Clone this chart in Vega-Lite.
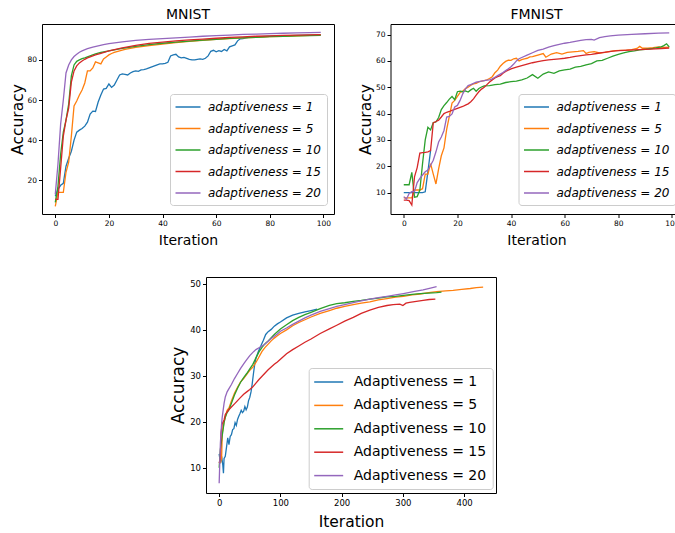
{
"$schema": "https://vega.github.io/schema/vega-lite/v6.json",
"background": "white",
"padding": {"left": 9, "top": 7, "right": 5, "bottom": 0},
"config": {
 "font": "DejaVu Sans",
 "axis": {"grid": false, "domain": false, "tickColor": "black", "tickSize": 3.5, "tickWidth": 1, "labelColor": "black", "labelFont": "DejaVu Sans", "labelPadding": 2, "titleColor": "black", "titleFont": "DejaVu Sans", "titleFontWeight": "normal"},
 "legend": {"title": null, "orient": "none", "symbolType": "M-2,0H2", "symbolStrokeWidth": 1.5, "labelColor": "black", "labelFont": "DejaVu Sans", "strokeColor": "#cccccc", "fillColor": "rgba(255,255,255,0.8)", "cornerRadius": 3, "padding": 6},
 "title": {"font": "DejaVu Sans", "fontWeight": "normal", "color": "black"}
},
"resolve": {"scale": {"color": "independent"}, "legend": {"color": "independent"}},
"spacing": 28,
"datasets": {
"mnist": [
{"a":1,"x":0,"y":12},{"a":1,"x":1,"y":15.5},{"a":1,"x":2,"y":17.5},{"a":1,"x":3,"y":18.5},{"a":1,"x":4,"y":27},{"a":1,"x":5,"y":31},{"a":1,"x":6,"y":34.5},{"a":1,"x":7,"y":40},{"a":1,"x":8,"y":44},{"a":1,"x":9,"y":45},{"a":1,"x":10,"y":45.8},{"a":1,"x":11,"y":47},{"a":1,"x":12,"y":49},{"a":1,"x":13,"y":53},{"a":1,"x":14,"y":54.5},{"a":1,"x":15,"y":54.3},{"a":1,"x":16,"y":59},{"a":1,"x":17,"y":62.5},{"a":1,"x":18,"y":65.5},{"a":1,"x":19,"y":65.8},{"a":1,"x":20,"y":68},{"a":1,"x":21,"y":66.3},{"a":1,"x":22,"y":67.5},{"a":1,"x":23,"y":70},{"a":1,"x":24,"y":72.5},{"a":1,"x":25,"y":73},{"a":1,"x":26,"y":72.8},{"a":1,"x":27,"y":72.5},{"a":1,"x":28,"y":73.5},{"a":1,"x":29,"y":74.2},{"a":1,"x":30,"y":74.5},{"a":1,"x":31,"y":74.3},{"a":1,"x":32,"y":75},{"a":1,"x":33,"y":75.2},{"a":1,"x":34,"y":75.5},{"a":1,"x":35,"y":76},{"a":1,"x":36,"y":76.5},{"a":1,"x":37,"y":77},{"a":1,"x":38,"y":77.5},{"a":1,"x":39,"y":78},{"a":1,"x":40,"y":78},{"a":1,"x":41,"y":78.3},{"a":1,"x":42,"y":78.8},{"a":1,"x":43,"y":82},{"a":1,"x":44,"y":82.5},{"a":1,"x":45,"y":82.8},{"a":1,"x":46,"y":81.5},{"a":1,"x":47,"y":81},{"a":1,"x":48,"y":81.3},{"a":1,"x":49,"y":80.8},{"a":1,"x":50,"y":80.3},{"a":1,"x":51,"y":80},{"a":1,"x":52,"y":80},{"a":1,"x":53,"y":80.3},{"a":1,"x":54,"y":80.5},{"a":1,"x":55,"y":80.3},{"a":1,"x":56,"y":80.8},{"a":1,"x":57,"y":82},{"a":1,"x":58,"y":84.3},{"a":1,"x":59,"y":84.8},{"a":1,"x":60,"y":84},{"a":1,"x":61,"y":84.6},{"a":1,"x":62,"y":84.2},{"a":1,"x":63,"y":85.2},{"a":1,"x":64,"y":84.5},{"a":1,"x":65,"y":86.5},{"a":1,"x":66,"y":87},{"a":1,"x":67,"y":87.5},{"a":1,"x":68,"y":89.5},{"a":1,"x":69,"y":90.5},{"a":1,"x":70,"y":90.6},{"a":1,"x":71,"y":91},{"a":1,"x":72,"y":91.2},{"a":1,"x":75,"y":91.5},{"a":1,"x":80,"y":91.8},{"a":1,"x":85,"y":92},{"a":1,"x":90,"y":92.2},{"a":1,"x":95,"y":92.4},{"a":1,"x":99,"y":92.5},
{"a":5,"x":0,"y":7},{"a":5,"x":1,"y":14},{"a":5,"x":2,"y":14},{"a":5,"x":3,"y":14},{"a":5,"x":4,"y":24},{"a":5,"x":5,"y":29},{"a":5,"x":6,"y":42},{"a":5,"x":7,"y":57},{"a":5,"x":8,"y":59.5},{"a":5,"x":9,"y":62.5},{"a":5,"x":10,"y":65},{"a":5,"x":11,"y":68.5},{"a":5,"x":12,"y":74.5},{"a":5,"x":13,"y":74.5},{"a":5,"x":14,"y":76},{"a":5,"x":15,"y":79},{"a":5,"x":16,"y":78.5},{"a":5,"x":17,"y":78},{"a":5,"x":18,"y":80.5},{"a":5,"x":19,"y":81.5},{"a":5,"x":20,"y":82.5},{"a":5,"x":21,"y":83.2},{"a":5,"x":22,"y":83.7},{"a":5,"x":24,"y":84.5},{"a":5,"x":26,"y":85.2},{"a":5,"x":28,"y":85.7},{"a":5,"x":30,"y":86.2},{"a":5,"x":35,"y":87.1},{"a":5,"x":40,"y":87.9},{"a":5,"x":45,"y":88.6},{"a":5,"x":50,"y":89.2},{"a":5,"x":55,"y":89.7},{"a":5,"x":60,"y":90.2},{"a":5,"x":65,"y":90.6},{"a":5,"x":70,"y":91},{"a":5,"x":75,"y":91.3},{"a":5,"x":80,"y":91.6},{"a":5,"x":85,"y":91.8},{"a":5,"x":90,"y":92},{"a":5,"x":95,"y":92.2},{"a":5,"x":99,"y":92.4},
{"a":10,"x":0,"y":9},{"a":10,"x":1,"y":17},{"a":10,"x":2,"y":33},{"a":10,"x":3,"y":44},{"a":10,"x":4,"y":50},{"a":10,"x":5,"y":58},{"a":10,"x":6,"y":72},{"a":10,"x":7,"y":77.5},{"a":10,"x":8,"y":79.3},{"a":10,"x":9,"y":80},{"a":10,"x":10,"y":80.6},{"a":10,"x":11,"y":81},{"a":10,"x":12,"y":81.5},{"a":10,"x":13,"y":82},{"a":10,"x":14,"y":82.5},{"a":10,"x":15,"y":83},{"a":10,"x":17,"y":83.7},{"a":10,"x":20,"y":84.5},{"a":10,"x":25,"y":85.7},{"a":10,"x":30,"y":86.8},{"a":10,"x":35,"y":87.6},{"a":10,"x":40,"y":88.3},{"a":10,"x":45,"y":88.9},{"a":10,"x":50,"y":89.4},{"a":10,"x":55,"y":89.9},{"a":10,"x":60,"y":90.3},{"a":10,"x":65,"y":90.7},{"a":10,"x":70,"y":91},{"a":10,"x":75,"y":91.3},{"a":10,"x":80,"y":91.6},{"a":10,"x":85,"y":91.8},{"a":10,"x":90,"y":92},{"a":10,"x":95,"y":92.1},{"a":10,"x":99,"y":92.2},
{"a":15,"x":0,"y":10.5},{"a":15,"x":1,"y":10.5},{"a":15,"x":2,"y":26},{"a":15,"x":3,"y":42},{"a":15,"x":4,"y":50},{"a":15,"x":5,"y":56},{"a":15,"x":6,"y":69},{"a":15,"x":7,"y":74.5},{"a":15,"x":8,"y":77},{"a":15,"x":9,"y":78.5},{"a":15,"x":10,"y":79.5},{"a":15,"x":11,"y":80.3},{"a":15,"x":12,"y":81},{"a":15,"x":13,"y":81.5},{"a":15,"x":14,"y":82},{"a":15,"x":15,"y":82.5},{"a":15,"x":17,"y":83.3},{"a":15,"x":20,"y":84.5},{"a":15,"x":25,"y":86},{"a":15,"x":30,"y":87.3},{"a":15,"x":35,"y":88.2},{"a":15,"x":40,"y":88.9},{"a":15,"x":45,"y":89.5},{"a":15,"x":50,"y":90},{"a":15,"x":55,"y":90.4},{"a":15,"x":60,"y":90.8},{"a":15,"x":65,"y":91.2},{"a":15,"x":70,"y":91.5},{"a":15,"x":75,"y":91.8},{"a":15,"x":80,"y":92},{"a":15,"x":85,"y":92.2},{"a":15,"x":90,"y":92.4},{"a":15,"x":95,"y":92.5},{"a":15,"x":99,"y":92.6},
{"a":20,"x":0,"y":13},{"a":20,"x":1,"y":28},{"a":20,"x":2,"y":48},{"a":20,"x":3,"y":60},{"a":20,"x":4,"y":73.5},{"a":20,"x":5,"y":77.5},{"a":20,"x":6,"y":80},{"a":20,"x":7,"y":81.7},{"a":20,"x":8,"y":82.8},{"a":20,"x":9,"y":83.8},{"a":20,"x":10,"y":84.5},{"a":20,"x":12,"y":85.6},{"a":20,"x":14,"y":86.4},{"a":20,"x":16,"y":87},{"a":20,"x":18,"y":87.6},{"a":20,"x":20,"y":88.1},{"a":20,"x":25,"y":89},{"a":20,"x":30,"y":89.7},{"a":20,"x":35,"y":90.2},{"a":20,"x":40,"y":90.6},{"a":20,"x":45,"y":91},{"a":20,"x":50,"y":91.4},{"a":20,"x":55,"y":91.8},{"a":20,"x":60,"y":92.1},{"a":20,"x":65,"y":92.4},{"a":20,"x":70,"y":92.7},{"a":20,"x":75,"y":92.9},{"a":20,"x":80,"y":93.1},{"a":20,"x":85,"y":93.3},{"a":20,"x":90,"y":93.5},{"a":20,"x":95,"y":93.6},{"a":20,"x":99,"y":93.7}
],
"fmnist": [
{"a":1,"x":0,"y":10},{"a":1,"x":1,"y":10},{"a":1,"x":2,"y":10},{"a":1,"x":3,"y":10},{"a":1,"x":4,"y":10},{"a":1,"x":5,"y":10},{"a":1,"x":6,"y":10},{"a":1,"x":7,"y":10},{"a":1,"x":8,"y":10.3},{"a":1,"x":9,"y":18},{"a":1,"x":10,"y":26},
{"a":5,"x":0,"y":8},{"a":5,"x":1,"y":8},{"a":5,"x":2,"y":8},{"a":5,"x":3,"y":8},{"a":5,"x":4,"y":11},{"a":5,"x":5,"y":11},{"a":5,"x":6,"y":11},{"a":5,"x":7,"y":11.5},{"a":5,"x":8,"y":17},{"a":5,"x":9,"y":17},{"a":5,"x":10,"y":21},{"a":5,"x":11,"y":17},{"a":5,"x":12,"y":13.3},{"a":5,"x":13,"y":19},{"a":5,"x":14,"y":24},{"a":5,"x":15,"y":27},{"a":5,"x":16,"y":34},{"a":5,"x":17,"y":39},{"a":5,"x":18,"y":44},{"a":5,"x":19,"y":45},{"a":5,"x":20,"y":46.5},{"a":5,"x":21,"y":48},{"a":5,"x":22,"y":48.5},{"a":5,"x":23,"y":49.5},{"a":5,"x":24,"y":50},{"a":5,"x":25,"y":50.8},{"a":5,"x":26,"y":51.3},{"a":5,"x":27,"y":51.5},{"a":5,"x":28,"y":52},{"a":5,"x":29,"y":52.3},{"a":5,"x":30,"y":52.5},{"a":5,"x":31,"y":52.8},{"a":5,"x":32,"y":53.3},{"a":5,"x":33,"y":54},{"a":5,"x":34,"y":55.5},{"a":5,"x":35,"y":56.5},{"a":5,"x":36,"y":58},{"a":5,"x":37,"y":59},{"a":5,"x":38,"y":59.8},{"a":5,"x":39,"y":60.3},{"a":5,"x":40,"y":60.2},{"a":5,"x":41,"y":60.8},{"a":5,"x":42,"y":61},{"a":5,"x":43,"y":60},{"a":5,"x":44,"y":60.5},{"a":5,"x":45,"y":60.8},{"a":5,"x":46,"y":61},{"a":5,"x":47,"y":61.5},{"a":5,"x":48,"y":61.6},{"a":5,"x":50,"y":62.2},{"a":5,"x":52,"y":62.8},{"a":5,"x":53,"y":61.4},{"a":5,"x":55,"y":62.6},{"a":5,"x":57,"y":63.1},{"a":5,"x":59,"y":62.6},{"a":5,"x":61,"y":63.2},{"a":5,"x":63,"y":63.4},{"a":5,"x":65,"y":63.6},{"a":5,"x":67,"y":63.9},{"a":5,"x":68,"y":62.8},{"a":5,"x":69,"y":63.2},{"a":5,"x":71,"y":63.5},{"a":5,"x":73,"y":63},{"a":5,"x":75,"y":63.2},{"a":5,"x":77,"y":63.6},{"a":5,"x":79,"y":63.9},{"a":5,"x":81,"y":64},{"a":5,"x":83,"y":64.1},{"a":5,"x":85,"y":64.3},{"a":5,"x":87,"y":64.7},{"a":5,"x":88,"y":65.5},{"a":5,"x":89,"y":64.8},{"a":5,"x":91,"y":64.8},{"a":5,"x":93,"y":65},{"a":5,"x":95,"y":65.3},{"a":5,"x":97,"y":65.1},{"a":5,"x":99,"y":65.2},
{"a":10,"x":0,"y":13},{"a":10,"x":1,"y":13},{"a":10,"x":2,"y":13},{"a":10,"x":3,"y":17.7},{"a":10,"x":4,"y":8.3},{"a":10,"x":5,"y":8.5},{"a":10,"x":6,"y":11},{"a":10,"x":7,"y":21},{"a":10,"x":8,"y":30},{"a":10,"x":9,"y":34.8},{"a":10,"x":10,"y":33.8},{"a":10,"x":11,"y":36.6},{"a":10,"x":12,"y":36.8},{"a":10,"x":13,"y":38.5},{"a":10,"x":14,"y":41.5},{"a":10,"x":15,"y":43},{"a":10,"x":16,"y":44.2},{"a":10,"x":17,"y":45.5},{"a":10,"x":18,"y":46.5},{"a":10,"x":19,"y":45.3},{"a":10,"x":20,"y":48.3},{"a":10,"x":21,"y":48.5},{"a":10,"x":22,"y":48.3},{"a":10,"x":23,"y":48.6},{"a":10,"x":24,"y":48.2},{"a":10,"x":25,"y":49},{"a":10,"x":26,"y":49.6},{"a":10,"x":27,"y":48.5},{"a":10,"x":28,"y":49.5},{"a":10,"x":29,"y":50.1},{"a":10,"x":30,"y":50.5},{"a":10,"x":32,"y":50.6},{"a":10,"x":34,"y":51},{"a":10,"x":36,"y":51.2},{"a":10,"x":38,"y":51.8},{"a":10,"x":40,"y":52.1},{"a":10,"x":42,"y":52.3},{"a":10,"x":44,"y":52.8},{"a":10,"x":46,"y":53.5},{"a":10,"x":48,"y":54.8},{"a":10,"x":50,"y":53.4},{"a":10,"x":52,"y":55},{"a":10,"x":54,"y":55.8},{"a":10,"x":56,"y":55.3},{"a":10,"x":58,"y":56.2},{"a":10,"x":60,"y":56.6},{"a":10,"x":62,"y":56.9},{"a":10,"x":64,"y":57.6},{"a":10,"x":66,"y":57.9},{"a":10,"x":68,"y":58.5},{"a":10,"x":70,"y":59},{"a":10,"x":72,"y":60},{"a":10,"x":74,"y":60.2},{"a":10,"x":76,"y":61},{"a":10,"x":78,"y":61.8},{"a":10,"x":80,"y":62.5},{"a":10,"x":82,"y":63},{"a":10,"x":84,"y":63.5},{"a":10,"x":86,"y":63.8},{"a":10,"x":88,"y":64.2},{"a":10,"x":90,"y":64.4},{"a":10,"x":92,"y":64.6},{"a":10,"x":94,"y":64.9},{"a":10,"x":96,"y":65.3},{"a":10,"x":97,"y":65.8},{"a":10,"x":98,"y":66.5},{"a":10,"x":99,"y":65.3},
{"a":15,"x":0,"y":7.2},{"a":15,"x":1,"y":7.2},{"a":15,"x":2,"y":7},{"a":15,"x":3,"y":5.3},{"a":15,"x":4,"y":16},{"a":15,"x":5,"y":19.5},{"a":15,"x":6,"y":25},{"a":15,"x":7,"y":25.2},{"a":15,"x":8,"y":25.3},{"a":15,"x":9,"y":25.5},{"a":15,"x":10,"y":26},{"a":15,"x":11,"y":36.5},{"a":15,"x":12,"y":37},{"a":15,"x":13,"y":37.5},{"a":15,"x":14,"y":38.7},{"a":15,"x":15,"y":40},{"a":15,"x":16,"y":40.5},{"a":15,"x":17,"y":40.8},{"a":15,"x":18,"y":41.2},{"a":15,"x":19,"y":41.6},{"a":15,"x":20,"y":42},{"a":15,"x":21,"y":42.4},{"a":15,"x":22,"y":42.7},{"a":15,"x":23,"y":43.2},{"a":15,"x":24,"y":43.7},{"a":15,"x":25,"y":44.5},{"a":15,"x":26,"y":45.6},{"a":15,"x":27,"y":47},{"a":15,"x":28,"y":48.3},{"a":15,"x":29,"y":49.3},{"a":15,"x":30,"y":50},{"a":15,"x":31,"y":51},{"a":15,"x":32,"y":52},{"a":15,"x":33,"y":52.8},{"a":15,"x":34,"y":53.5},{"a":15,"x":35,"y":54},{"a":15,"x":36,"y":54.4},{"a":15,"x":37,"y":55.3},{"a":15,"x":38,"y":56},{"a":15,"x":40,"y":57},{"a":15,"x":42,"y":57.6},{"a":15,"x":44,"y":58.2},{"a":15,"x":46,"y":58.8},{"a":15,"x":48,"y":59.3},{"a":15,"x":50,"y":59.7},{"a":15,"x":52,"y":60.1},{"a":15,"x":54,"y":60.4},{"a":15,"x":56,"y":60.6},{"a":15,"x":58,"y":60.8},{"a":15,"x":60,"y":61},{"a":15,"x":62,"y":61.3},{"a":15,"x":64,"y":61.7},{"a":15,"x":66,"y":62},{"a":15,"x":68,"y":62.3},{"a":15,"x":70,"y":62.5},{"a":15,"x":72,"y":62.8},{"a":15,"x":74,"y":63.1},{"a":15,"x":76,"y":63.4},{"a":15,"x":78,"y":63.7},{"a":15,"x":80,"y":63.9},{"a":15,"x":84,"y":64.1},{"a":15,"x":88,"y":64.3},{"a":15,"x":92,"y":64.5},{"a":15,"x":96,"y":64.7},{"a":15,"x":99,"y":64.9},
{"a":20,"x":0,"y":8.5},{"a":20,"x":1,"y":7.5},{"a":20,"x":2,"y":9.7},{"a":20,"x":3,"y":10.4},{"a":20,"x":4,"y":10.4},{"a":20,"x":5,"y":13.8},{"a":20,"x":6,"y":15.4},{"a":20,"x":7,"y":16.7},{"a":20,"x":8,"y":17.9},{"a":20,"x":9,"y":18.6},{"a":20,"x":10,"y":20.4},{"a":20,"x":11,"y":22.3},{"a":20,"x":12,"y":25.5},{"a":20,"x":13,"y":29.2},{"a":20,"x":14,"y":31.1},{"a":20,"x":15,"y":33.6},{"a":20,"x":16,"y":38.7},{"a":20,"x":17,"y":38.9},{"a":20,"x":18,"y":39.9},{"a":20,"x":19,"y":42.5},{"a":20,"x":20,"y":43.1},{"a":20,"x":21,"y":45},{"a":20,"x":22,"y":47.5},{"a":20,"x":23,"y":49.4},{"a":20,"x":24,"y":50.6},{"a":20,"x":25,"y":51},{"a":20,"x":26,"y":51.5},{"a":20,"x":27,"y":51.9},{"a":20,"x":28,"y":52.1},{"a":20,"x":29,"y":52.3},{"a":20,"x":30,"y":52.5},{"a":20,"x":31,"y":52.7},{"a":20,"x":32,"y":52.8},{"a":20,"x":33,"y":53.2},{"a":20,"x":34,"y":53.8},{"a":20,"x":35,"y":54.4},{"a":20,"x":36,"y":55},{"a":20,"x":37,"y":55.6},{"a":20,"x":38,"y":56.3},{"a":20,"x":39,"y":57},{"a":20,"x":40,"y":57.8},{"a":20,"x":41,"y":58.8},{"a":20,"x":42,"y":60},{"a":20,"x":43,"y":60.8},{"a":20,"x":44,"y":61.3},{"a":20,"x":46,"y":62.2},{"a":20,"x":48,"y":63.1},{"a":20,"x":50,"y":64},{"a":20,"x":52,"y":64.5},{"a":20,"x":54,"y":65.2},{"a":20,"x":56,"y":65.8},{"a":20,"x":58,"y":66.3},{"a":20,"x":60,"y":66.7},{"a":20,"x":62,"y":67},{"a":20,"x":64,"y":67.4},{"a":20,"x":66,"y":67.8},{"a":20,"x":68,"y":68.1},{"a":20,"x":70,"y":68.2},{"a":20,"x":71,"y":67.9},{"a":20,"x":73,"y":68.8},{"a":20,"x":75,"y":69.2},{"a":20,"x":77,"y":69.5},{"a":20,"x":80,"y":69.8},{"a":20,"x":85,"y":70.1},{"a":20,"x":90,"y":70.3},{"a":20,"x":95,"y":70.5},{"a":20,"x":99,"y":70.6}
],
"cifar": [
{"a":1,"x":0,"y":13},{"a":1,"x":2,"y":11},{"a":1,"x":4,"y":12.5},{"a":1,"x":6,"y":10.5},{"a":1,"x":7,"y":8.8},{"a":1,"x":8,"y":12},{"a":1,"x":10,"y":12.5},{"a":1,"x":12,"y":14.5},{"a":1,"x":14,"y":16.5},{"a":1,"x":16,"y":15},{"a":1,"x":18,"y":16.8},{"a":1,"x":20,"y":17.2},{"a":1,"x":22,"y":18.3},{"a":1,"x":24,"y":18.5},{"a":1,"x":26,"y":19.8},{"a":1,"x":28,"y":19.2},{"a":1,"x":30,"y":20.5},{"a":1,"x":32,"y":21.2},{"a":1,"x":34,"y":21.8},{"a":1,"x":36,"y":22.5},{"a":1,"x":38,"y":22},{"a":1,"x":40,"y":22.3},{"a":1,"x":42,"y":23.3},{"a":1,"x":44,"y":22.6},{"a":1,"x":46,"y":23.2},{"a":1,"x":48,"y":24.6},{"a":1,"x":50,"y":25.3},{"a":1,"x":52,"y":26.5},{"a":1,"x":54,"y":28.3},{"a":1,"x":56,"y":30.5},{"a":1,"x":58,"y":32.5},{"a":1,"x":60,"y":33.8},{"a":1,"x":64,"y":35.3},{"a":1,"x":68,"y":36.5},{"a":1,"x":72,"y":37.7},{"a":1,"x":76,"y":39},{"a":1,"x":80,"y":39.6},{"a":1,"x":85,"y":40.1},{"a":1,"x":90,"y":40.8},{"a":1,"x":95,"y":41.3},{"a":1,"x":100,"y":41.7},{"a":1,"x":110,"y":42.6},{"a":1,"x":120,"y":43.2},{"a":1,"x":130,"y":43.6},{"a":1,"x":140,"y":43.9},{"a":1,"x":150,"y":44.2},{"a":1,"x":160,"y":44.5},
{"a":5,"x":2,"y":11},{"a":5,"x":4,"y":12},{"a":5,"x":5,"y":17.5},{"a":5,"x":8,"y":20},{"a":5,"x":10,"y":21},{"a":5,"x":13,"y":22.5},{"a":5,"x":16,"y":23},{"a":5,"x":20,"y":24.5},{"a":5,"x":25,"y":26.2},{"a":5,"x":30,"y":27.5},{"a":5,"x":35,"y":28.7},{"a":5,"x":40,"y":29.4},{"a":5,"x":45,"y":30.3},{"a":5,"x":50,"y":31.2},{"a":5,"x":55,"y":31.9},{"a":5,"x":60,"y":32.9},{"a":5,"x":65,"y":34.1},{"a":5,"x":70,"y":35.3},{"a":5,"x":75,"y":36.2},{"a":5,"x":80,"y":36.9},{"a":5,"x":85,"y":37.6},{"a":5,"x":90,"y":38.2},{"a":5,"x":95,"y":38.7},{"a":5,"x":100,"y":39.2},{"a":5,"x":110,"y":40},{"a":5,"x":120,"y":40.9},{"a":5,"x":130,"y":41.6},{"a":5,"x":140,"y":42.2},{"a":5,"x":150,"y":42.8},{"a":5,"x":165,"y":43.6},{"a":5,"x":180,"y":44.2},{"a":5,"x":192,"y":44.7},{"a":5,"x":205,"y":45.1},{"a":5,"x":219,"y":45.5},{"a":5,"x":232,"y":45.8},{"a":5,"x":246,"y":46.1},{"a":5,"x":260,"y":46.5},{"a":5,"x":274,"y":46.8},{"a":5,"x":288,"y":47.1},{"a":5,"x":301,"y":47.3},{"a":5,"x":315,"y":47.6},{"a":5,"x":328,"y":47.8},{"a":5,"x":342,"y":48.1},{"a":5,"x":355,"y":48.3},{"a":5,"x":370,"y":48.5},{"a":5,"x":382,"y":48.6},{"a":5,"x":396,"y":48.8},{"a":5,"x":410,"y":49},{"a":5,"x":420,"y":49.2},{"a":5,"x":431,"y":49.3},
{"a":10,"x":0,"y":10},{"a":10,"x":2,"y":14},{"a":10,"x":5,"y":17},{"a":10,"x":8,"y":19.8},{"a":10,"x":10,"y":21},{"a":10,"x":13,"y":22},{"a":10,"x":16,"y":22.6},{"a":10,"x":20,"y":24},{"a":10,"x":25,"y":25.8},{"a":10,"x":30,"y":27.3},{"a":10,"x":35,"y":28.6},{"a":10,"x":40,"y":29.6},{"a":10,"x":45,"y":30.5},{"a":10,"x":50,"y":31.5},{"a":10,"x":55,"y":32.5},{"a":10,"x":60,"y":33.9},{"a":10,"x":65,"y":35.2},{"a":10,"x":70,"y":36.2},{"a":10,"x":75,"y":37},{"a":10,"x":80,"y":37.6},{"a":10,"x":85,"y":38.3},{"a":10,"x":90,"y":39},{"a":10,"x":95,"y":39.6},{"a":10,"x":100,"y":40.2},{"a":10,"x":110,"y":41.1},{"a":10,"x":120,"y":42},{"a":10,"x":130,"y":42.7},{"a":10,"x":140,"y":43.3},{"a":10,"x":150,"y":43.8},{"a":10,"x":165,"y":44.6},{"a":10,"x":180,"y":45.3},{"a":10,"x":192,"y":45.7},{"a":10,"x":205,"y":45.9},{"a":10,"x":219,"y":46.2},{"a":10,"x":232,"y":46.4},{"a":10,"x":246,"y":46.7},{"a":10,"x":260,"y":46.9},{"a":10,"x":274,"y":47.2},{"a":10,"x":288,"y":47.3},{"a":10,"x":301,"y":47.5},{"a":10,"x":315,"y":47.7},{"a":10,"x":328,"y":47.9},{"a":10,"x":342,"y":48},{"a":10,"x":355,"y":48.1},{"a":10,"x":363,"y":48.2},
{"a":15,"x":0,"y":11},{"a":15,"x":2,"y":12},{"a":15,"x":3,"y":17.5},{"a":15,"x":5,"y":19.6},{"a":15,"x":8,"y":20.4},{"a":15,"x":10,"y":21.6},{"a":15,"x":15,"y":22.5},{"a":15,"x":20,"y":23.2},{"a":15,"x":25,"y":23.9},{"a":15,"x":30,"y":24.6},{"a":15,"x":35,"y":25.3},{"a":15,"x":40,"y":26},{"a":15,"x":45,"y":26.5},{"a":15,"x":50,"y":27},{"a":15,"x":55,"y":27.6},{"a":15,"x":60,"y":28.4},{"a":15,"x":65,"y":29.2},{"a":15,"x":70,"y":29.9},{"a":15,"x":75,"y":30.6},{"a":15,"x":80,"y":31.3},{"a":15,"x":85,"y":31.9},{"a":15,"x":90,"y":32.5},{"a":15,"x":95,"y":33},{"a":15,"x":100,"y":33.6},{"a":15,"x":110,"y":34.8},{"a":15,"x":120,"y":35.7},{"a":15,"x":130,"y":36.5},{"a":15,"x":140,"y":37.3},{"a":15,"x":150,"y":38},{"a":15,"x":165,"y":39.2},{"a":15,"x":180,"y":40.2},{"a":15,"x":192,"y":41},{"a":15,"x":205,"y":41.9},{"a":15,"x":219,"y":42.7},{"a":15,"x":232,"y":43.6},{"a":15,"x":246,"y":44.3},{"a":15,"x":260,"y":44.9},{"a":15,"x":274,"y":45.3},{"a":15,"x":284,"y":45.5},{"a":15,"x":295,"y":45.6},{"a":15,"x":300,"y":45.3},{"a":15,"x":305,"y":45.8},{"a":15,"x":311,"y":46},{"a":15,"x":322,"y":46.2},{"a":15,"x":333,"y":46.4},{"a":15,"x":343,"y":46.6},{"a":15,"x":353,"y":46.7},
{"a":20,"x":0,"y":6.6},{"a":20,"x":1,"y":11},{"a":20,"x":2,"y":15.4},{"a":20,"x":4,"y":19.6},{"a":20,"x":5,"y":21},{"a":20,"x":8,"y":24},{"a":20,"x":10,"y":25.4},{"a":20,"x":13,"y":26.5},{"a":20,"x":16,"y":27.2},{"a":20,"x":20,"y":28.1},{"a":20,"x":25,"y":29.4},{"a":20,"x":30,"y":30.5},{"a":20,"x":35,"y":31.6},{"a":20,"x":40,"y":32.6},{"a":20,"x":45,"y":33.5},{"a":20,"x":50,"y":34.4},{"a":20,"x":55,"y":35.1},{"a":20,"x":60,"y":35.7},{"a":20,"x":65,"y":36.1},{"a":20,"x":70,"y":36.5},{"a":20,"x":75,"y":36.9},{"a":20,"x":80,"y":37.5},{"a":20,"x":85,"y":38.1},{"a":20,"x":90,"y":38.6},{"a":20,"x":95,"y":39.1},{"a":20,"x":100,"y":39.7},{"a":20,"x":110,"y":40.4},{"a":20,"x":120,"y":41.2},{"a":20,"x":130,"y":41.9},{"a":20,"x":140,"y":42.6},{"a":20,"x":150,"y":43.2},{"a":20,"x":165,"y":44},{"a":20,"x":180,"y":44.6},{"a":20,"x":192,"y":45.1},{"a":20,"x":205,"y":45.5},{"a":20,"x":219,"y":45.9},{"a":20,"x":232,"y":46.3},{"a":20,"x":246,"y":46.7},{"a":20,"x":260,"y":47},{"a":20,"x":274,"y":47.3},{"a":20,"x":288,"y":47.6},{"a":20,"x":301,"y":47.9},{"a":20,"x":317,"y":48.3},{"a":20,"x":333,"y":48.7},{"a":20,"x":345,"y":49.1},{"a":20,"x":355,"y":49.4}
]
},
"vconcat": [
 {
  "hconcat": [
   {
    "width": 292, "height": 190,
    "view": {"stroke": "black", "strokeWidth": 1},
    "title": {"text": "MNIST", "fontSize": 14, "offset": 2},
    "data": {"name": "mnist"},
    "mark": {"type": "line", "strokeWidth": 1.3},
    "encoding": {
     "x": {"field": "x", "type": "quantitative", "scale": {"domain": [-4.95, 103.95], "nice": false, "zero": false}, "axis": {"values": [0,20,40,60,80,100], "title": "Iteration", "titleFontSize": 14, "labelFontSize": 7.5, "titlePadding": 6}},
     "y": {"field": "y", "type": "quantitative", "scale": {"domain": [3.2, 97.9], "nice": false, "zero": false}, "axis": {"values": [20,40,60,80], "title": "Accuracy", "titleFontSize": 15.5, "labelFontSize": 7.5, "titlePadding": 1.5}},
     "color": {"field": "a", "type": "nominal", "scale": {"domain": [1,5,10,15,20], "range": ["#1f77b4","#ff7f0e","#2ca02c","#d62728","#9467bd"]},
      "legend": {"legendX": 128, "legendY": 70, "labelExpr": "'adaptiveness = ' + datum.label", "labelFontSize": 12, "labelFontStyle": "italic", "symbolSize": 156, "rowPadding": 8.5, "labelOffset": 13, "symbolOffset": 5}}
    }
   },
   {
    "width": 292, "height": 190,
    "view": {"stroke": "black", "strokeWidth": 1},
    "title": {"text": "FMNIST", "fontSize": 14, "offset": 2},
    "data": {"name": "fmnist"},
    "mark": {"type": "line", "strokeWidth": 1.3},
    "encoding": {
     "x": {"field": "x", "type": "quantitative", "scale": {"domain": [-4.95, 103.95], "nice": false, "zero": false}, "axis": {"values": [0,20,40,60,80,100], "title": "Iteration", "titleFontSize": 14, "labelFontSize": 7.5, "titlePadding": 6}},
     "y": {"field": "y", "type": "quantitative", "scale": {"domain": [1.9, 74], "nice": false, "zero": false}, "axis": {"values": [10,20,30,40,50,60,70], "title": "Accuracy", "titleFontSize": 15.5, "labelFontSize": 7.5, "titlePadding": 1.5}},
     "color": {"field": "a", "type": "nominal", "scale": {"domain": [1,5,10,15,20], "range": ["#1f77b4","#ff7f0e","#2ca02c","#d62728","#9467bd"]},
      "legend": {"legendX": 128, "legendY": 70, "labelExpr": "'adaptiveness = ' + datum.label", "labelFontSize": 12, "labelFontStyle": "italic", "symbolSize": 156, "rowPadding": 8.5, "labelOffset": 13, "symbolOffset": 5}}
    }
   }
  ],
  "spacing": 22.5,
  "resolve": {"scale": {"color": "independent"}, "legend": {"color": "independent"}}
 },
 {
  "hconcat": [
   {
    "width": 126, "height": 10,
    "view": {"stroke": null},
    "data": {"values": [{}]},
    "mark": {"type": "point", "opacity": 0},
    "encoding": {}
   },
   {
    "width": 290, "height": 216,
    "view": {"stroke": "black", "strokeWidth": 1},
    "data": {"name": "cifar"},
    "mark": {"type": "line", "strokeWidth": 1.3},
    "encoding": {
     "x": {"field": "x", "type": "quantitative", "scale": {"domain": [-21.5, 452], "nice": false, "zero": false}, "axis": {"values": [0,100,200,300,400], "title": "Iteration", "titleFontSize": 15.5, "labelFontSize": 8.5, "titlePadding": 7.5}},
     "y": {"field": "y", "type": "quantitative", "scale": {"domain": [4.5, 51.5], "nice": false, "zero": false}, "axis": {"values": [10,20,30,40,50], "title": "Accuracy", "titleFontSize": 17, "labelFontSize": 8.5, "titlePadding": 2.5}},
     "color": {"field": "a", "type": "nominal", "scale": {"domain": [1,5,10,15,20], "range": ["#1f77b4","#ff7f0e","#2ca02c","#d62728","#9467bd"]},
      "legend": {"legendX": 102.7, "legendY": 91, "labelExpr": "'Adaptiveness = ' + datum.label", "labelFontSize": 14, "symbolSize": 210, "rowPadding": 8.4, "labelOffset": 17, "symbolOffset": 6}}
    }
   }
  ],
  "spacing": 0,
  "resolve": {"scale": {"color": "independent"}, "legend": {"color": "independent"}}
 }
]
}
